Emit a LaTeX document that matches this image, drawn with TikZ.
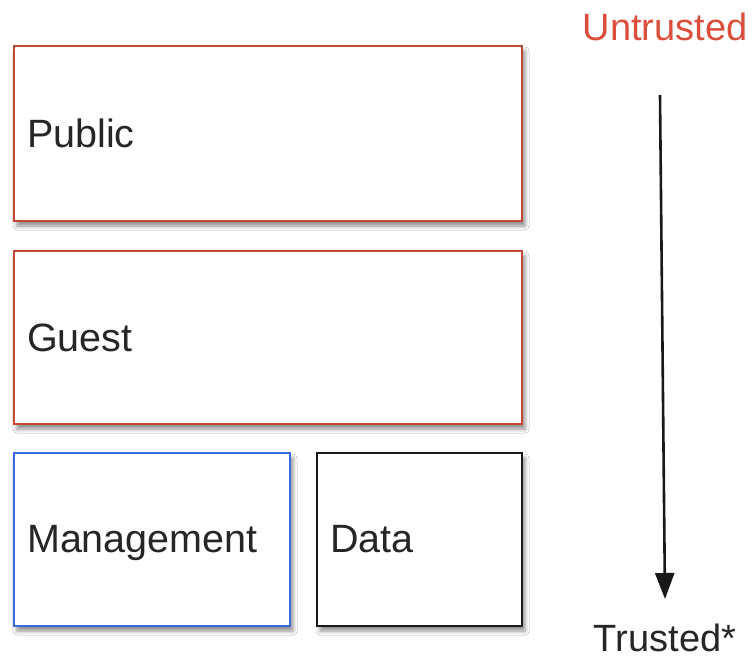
\documentclass[tikz,border=0pt]{standalone}
\usepackage{fontspec}
\setmainfont{Liberation Sans}
\usetikzlibrary{shadows.blur,arrows.meta}
\definecolor{boxred}{RGB}{196,72,52}
\definecolor{boxblue}{RGB}{58,108,224}
\definecolor{labred}{RGB}{220,78,60}
\tikzset{
  zone/.style={draw, line width=2.2pt, fill=white, rectangle, inner sep=0pt,
    blur shadow={shadow xshift=3pt, shadow yshift=-5pt, shadow blur radius=4pt, shadow opacity=45}},
  lab/.style={anchor=base west, inner sep=0pt, font=\fontsize{39.5}{42}\selectfont, text=black!85},
}
\begin{document}
\begin{tikzpicture}[x=1pt,y=-1pt]
\useasboundingbox[fill=white] (0,0) rectangle (753,659);
\node[zone, draw=boxred, minimum width=508pt, minimum height=175pt] (public) at (268,133.5) {};
\node[zone, draw=boxred, minimum width=508pt, minimum height=173pt] (guest) at (268,337.5) {};
\node[zone, draw=boxblue, minimum width=276pt, minimum height=173pt] (mgmt) at (152,539.5) {};
\node[zone, draw=black!90, minimum width=205pt, minimum height=173pt] (data) at (419.5,539.5) {};
\node[lab] (tpublic) at ([xshift=14pt,yshift=-13.5pt]public.west) {Public};
\node[lab] (tguest) at ([xshift=14pt,yshift=-13.5pt]guest.west) {Guest};
\node[lab] (tmgmt) at ([xshift=14pt,yshift=-13pt]mgmt.west) {Management};
\node[lab] (tdata) at ([xshift=14pt,yshift=-13pt]data.west) {Data};
\node[lab, anchor=base, text=labred, font=\fontsize{38}{40}\selectfont] (untrusted) at (665,40) {Untrusted};
\node[lab, anchor=base, font=\fontsize{38}{40}\selectfont] (trusted) at (665,651) {Trusted*};
\coordinate (atop) at (660,95);
\coordinate (abot) at (665,599);
\draw[line width=2.6pt, black!90, -{Triangle[length=26pt,width=19pt]}] (atop) -- (abot);
\end{tikzpicture}
\end{document}
